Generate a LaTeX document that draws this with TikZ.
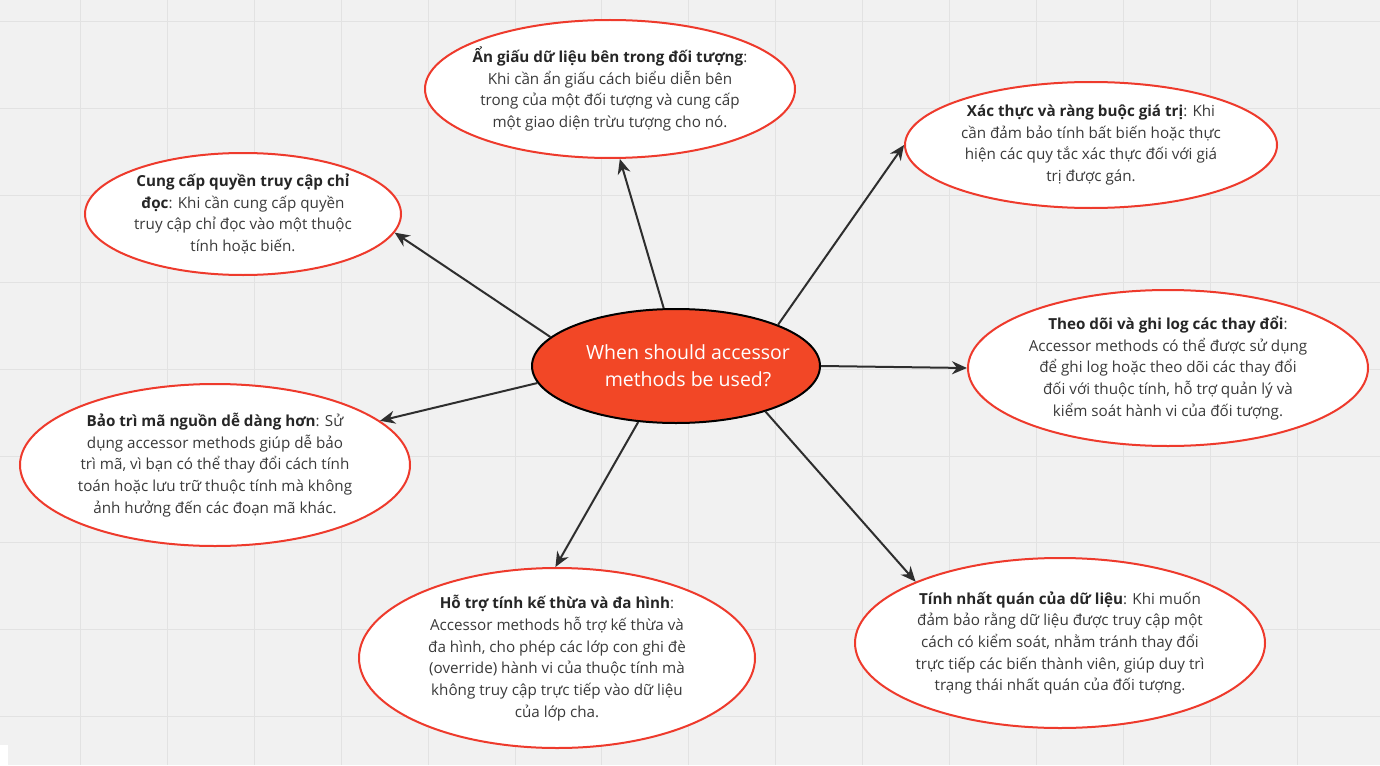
\documentclass[tikz,border=0pt]{standalone}
\usepackage{fontspec}
\setmainfont{Open Sans}
\usetikzlibrary{shapes.geometric,arrows.meta}
\definecolor{bg}{HTML}{F1F1F1}
\definecolor{gridc}{HTML}{E2E2E2}
\definecolor{redline}{HTML}{EE3A2C}
\definecolor{hub}{HTML}{F24726}
\definecolor{txt}{HTML}{3A3A3A}
\definecolor{arr}{HTML}{2E2E2E}
\tikzset{
  leaf/.style={ellipse, draw=redline, line width=2pt, fill=white, inner sep=0pt,
    align=center, text=txt, font=\fontsize{15.2}{21.7}\selectfont},
  hubnode/.style={ellipse, draw=black, line width=2pt, fill=hub, inner ysep=0pt, inner xsep=-14pt,
    align=center, text=white, font=\fontsize{19.5}{27}\selectfont},
  link/.style={draw=arr, line width=2pt, -{Stealth[length=15pt,width=13pt]}},
}
\newcommand{\bt}[1]{\textbf{\color{black!85}#1}}
\begin{document}
\begin{tikzpicture}[x=1pt,y=-1pt]
\useasboundingbox (0,0) rectangle (1380,765);
\fill[bg] (0,0) rectangle (1380,765);
\foreach \k in {0,...,15} {\draw[gridc,line width=1pt] ({80.5+86.9*\k},0) -- ({80.5+86.9*\k},765);}
\foreach \k in {0,...,8} {\draw[gridc,line width=1pt] (0,{21.5+86.9*\k}) -- (1380,{21.5+86.9*\k});}
\fill[white] (0,745) rectangle (8,765);

\node[hubnode, minimum width=288pt, minimum height=114pt] (c) at (676,366)
  {\hspace*{24pt}When should accessor\\\hspace*{24pt}methods be used?};

\node[leaf, inner xsep=-10pt, minimum width=370pt, minimum height=138pt] (top) at (610,89)
  {\bt{Ẩn giấu dữ liệu bên trong đối tượng}:\\Khi cần ẩn giấu cách biểu diễn bên\\trong của một đối tượng và cung cấp\\một giao diện trừu tượng cho nó.};

\node[leaf, minimum width=372pt, minimum height=126pt] (val) at (1091,145)
  {\bt{Xác thực và ràng buộc giá trị}: Khi\\cần đảm bảo tính bất biến hoặc thực\\hiện các quy tắc xác thực đối với giá\\trị được gán.};

\node[leaf, minimum width=316pt, minimum height=122pt] (ro) at (243,214)
  {\bt{Cung cấp quyền truy cập chỉ}\\\bt{đọc}: Khi cần cung cấp quyền\\truy cập chỉ đọc vào một thuộc\\tính hoặc biến.};

\node[leaf, minimum width=400pt, minimum height=156pt] (log) at (1168,368)
  {\bt{Theo dõi và ghi log các thay đổi}:\\Accessor methods có thể được sử dụng\\để ghi log hoặc theo dõi các thay đổi\\đối với thuộc tính, hỗ trợ quản lý và\\kiểm soát hành vi của đối tượng.};

\node[leaf, minimum width=390pt, minimum height=162pt] (maint) at (215,465)
  {\bt{Bảo trì mã nguồn dễ dàng hơn}: Sử\\dụng accessor methods giúp dễ bảo\\trì mã, vì bạn có thể thay đổi cách tính\\toán hoặc lưu trữ thuộc tính mà không\\ảnh hưởng đến các đoạn mã khác.};

\node[leaf, minimum width=396pt, minimum height=180pt] (inh) at (557,658)
  {\bt{Hỗ trợ tính kế thừa và đa hình}:\\Accessor methods hỗ trợ kế thừa và\\đa hình, cho phép các lớp con ghi đè\\(override) hành vi của thuộc tính mà\\không truy cập trực tiếp vào dữ liệu\\của lớp cha.};

\node[leaf, minimum width=410pt, minimum height=170pt] (cons) at (1060,643)
  {\bt{Tính nhất quán của dữ liệu}: Khi muốn\\đảm bảo rằng dữ liệu được truy cập một\\cách có kiểm soát, nhằm tránh thay đổi\\trực tiếp các biến thành viên, giúp duy trì\\trạng thái nhất quán của đối tượng.};

\draw[link] (c.102) -- (top.278);
\draw[link] (c.22) -- (val.180);
\draw[link] (c.167) -- (ro.353);
\draw[link] (c.0) -- (log.180);
\draw[link] (c.187) -- (maint.15);
\draw[link] (c.236) -- (inh.91);
\draw[link] (c.333) -- (cons.157);
\end{tikzpicture}
\end{document}
